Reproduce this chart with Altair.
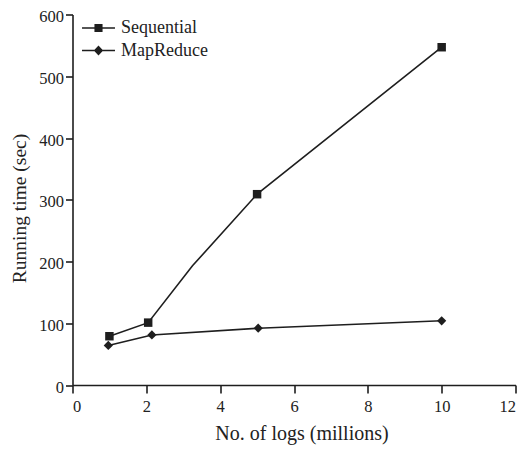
import altair as alt
import pandas as pd

# Sequential series (third point is an unmarked bend in the line)
seq_x = [1.0, 2.05, 3.25, 5.0, 10.0]
seq_y = [79, 101, 193, 309, 547]
seq_marker = [True, True, False, True, True]

# MapReduce series
mr_x = [0.97, 2.15, 5.03, 10.0]
mr_y = [64, 81, 92, 104]
mr_marker = [True, True, True, True]

series_names = ["Sequential", "MapReduce"]
x_ticks = [0, 2, 4, 6, 8, 10, 12]
y_ticks = [0, 100, 200, 300, 400, 500, 600]

rows = []
for i, (x, y, m) in enumerate(zip(seq_x, seq_y, seq_marker)):
    rows.append({"series": series_names[0], "x": x, "y": y, "marker": m, "order": i})
for i, (x, y, m) in enumerate(zip(mr_x, mr_y, mr_marker)):
    rows.append({"series": series_names[1], "x": x, "y": y, "marker": m, "order": i})
df = pd.DataFrame(rows)

FONT = "Liberation Serif"
INK = "#1e1e1e"

xenc = alt.X("x:Q", scale=alt.Scale(domain=[0, 12], nice=False),
             axis=alt.Axis(values=x_ticks, title="No. of logs (millions)", tickSize=8,
                           labelPadding=5, titlePadding=9, titleX=229))
yenc = alt.Y("y:Q", scale=alt.Scale(domain=[0, 600], nice=False),
             axis=alt.Axis(values=y_ticks, title="Running time (sec)", tickSize=7,
                           labelPadding=2, labelOffset=2, titlePadding=9.5, titleY=193.5,
                           titleFontSize=19.5))

base = alt.Chart(df)

lines = base.mark_line(color=INK, strokeWidth=1.6).encode(
    x=xenc, y=yenc, detail="series:N", order="order:Q"
)

points = base.transform_filter("datum.marker").mark_point(
    filled=True, color=INK, opacity=1
).encode(
    x="x:Q", y="y:Q",
    shape=alt.Shape("series:N", scale=alt.Scale(domain=series_names, range=["square", "diamond"]),
                    legend=None),
    size=alt.Size("series:N", scale=alt.Scale(domain=series_names, range=[72, 85]), legend=None),
)

# legend glyphs: a short line segment (thin filled bar) with the series marker on it
legend_paths = [
    "M-1.83,-0.085H1.83V0.085H-1.83Z M-0.45,-0.45H0.45V0.45H-0.45Z",
    "M-1.83,-0.085H1.83V0.085H-1.83Z M0,-0.55L0.52,0L0,0.55L-0.52,0Z",
]

legend_layer = base.transform_filter("datum.marker").mark_point(
    filled=True, color=INK, opacity=0
).encode(
    x="x:Q", y="y:Q",
    shape=alt.Shape("series:N", scale=alt.Scale(domain=series_names, range=legend_paths),
                    legend=alt.Legend(title=None, orient="none", legendX=17, legendY=4.5,
                                      symbolSize=324, symbolOpacity=1, symbolFillColor=INK,
                                      symbolStrokeWidth=0,
                                      labelFont=FONT, labelFontSize=18, labelColor="#222",
                                      labelOffset=13.5, rowPadding=4.5, padding=0)),
)

chart = alt.layer(lines, points, legend_layer).resolve_scale(
    shape="independent"
).properties(
    width=443, height=370.5,
    autosize=alt.AutoSizeParams(type="none"),
    padding={"left": 64.5, "top": 6.5, "right": 3.5, "bottom": 66},
).configure_view(stroke=None).configure_axis(
    grid=False, domainColor=INK, domainWidth=1.6, tickColor=INK, tickWidth=1.6,
    labelFont=FONT, labelFontSize=16.5, labelColor="#222",
    titleFont=FONT, titleFontSize=20, titleFontWeight="normal", titleColor="#222",
)

chart.save("out.html", embed_options={"renderer": "svg", "actions": False})
